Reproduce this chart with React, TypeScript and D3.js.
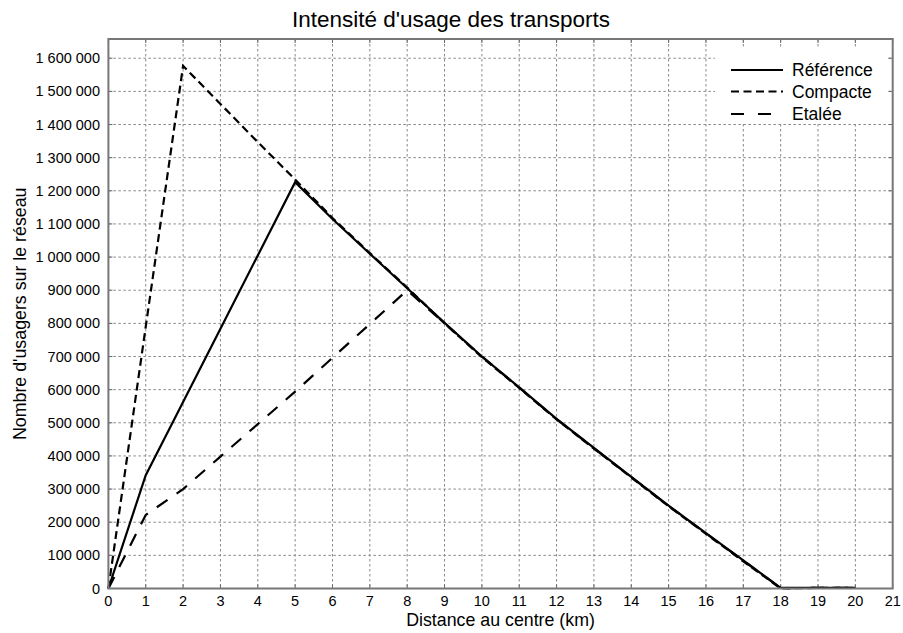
import React from "react";
import * as d3 from "d3";

const distances = [0, 1, 2, 3, 4, 5, 6, 7, 8, 9, 10, 11, 12, 13, 14, 15, 16, 17, 18, 19, 20];
const reference = [0, 342000, 563000, 784000, 1005000, 1226000, 1115000, 1010000, 906000, 802000, 700000, 607000, 512000, 424000, 337000, 250000, 167000, 85000, 2000, 2000, 2000];
const compacte = [0, 790000, 1577000, 1462000, 1347000, 1234000, 1118000, 1012000, 908000, 800000, 698000, 605000, 510000, 422000, 335000, 248000, 165000, 82000, 0, 2000, 2000];
const etalee = [0, 222000, 300000, 398000, 496000, 594000, 696000, 798000, 900000, 800000, 700000, 606000, 511000, 423000, 336000, 249000, 166000, 84000, 1000, 2000, 2000];
const xTicks = d3.range(0, 22);
const yTicks = d3.range(0, 1700000, 100000);
const seriesNames = ["Référence", "Compacte", "Etalée"];

const W = 903, H = 633;
const L = 108.4, R = 892.7, T = 39, B = 588.5;
const FONT = "'Liberation Sans', Arial, Helvetica, sans-serif";

export default function App() {
  const x = d3.scaleLinear().domain([0, 21]).range([L, R]);
  const y = d3.scaleLinear().domain([0, 1658000]).range([B, T]);
  const fmt = (v: number) => d3.format(",")(v).replace(/,/g, " ");
  const line = d3.line<number>().x((_, i) => x(distances[i])).y((d) => y(d));
  const series = [
    { name: seriesNames[0], data: reference, dash: "" },
    { name: seriesNames[1], data: compacte, dash: "8,4.5" },
    { name: seriesNames[2], data: etalee, dash: "13,11" },
  ];
  return (
    <svg width={W} height={H} style={{ position: "absolute", left: 0, top: 0, background: "#fff" }} fontFamily={FONT}>
      <rect x={0} y={0} width={W} height={H} fill="#fff" />
      <text x={451} y={27} textAnchor="middle" fontSize={22.5} fill="#000">Intensité d'usage des transports</text>
      {xTicks.slice(1, -1).map((t) => (
        <line key={"gx" + t} x1={x(t)} x2={x(t)} y1={T} y2={B} stroke="#888" strokeWidth={1} strokeDasharray="2.5,2.5" />
      ))}
      {yTicks.slice(1).map((t) => (
        <line key={"gy" + t} x1={L} x2={R} y1={y(t)} y2={y(t)} stroke="#888" strokeWidth={1} strokeDasharray="2.5,2.5" />
      ))}
      {xTicks.map((t) => (
        <g key={"tx" + t}>
          <line x1={x(t)} x2={x(t)} y1={B} y2={B - 4} stroke="#666" strokeWidth={1} />
          <line x1={x(t)} x2={x(t)} y1={T} y2={T + 4} stroke="#666" strokeWidth={1} />
          <text x={x(t)} y={606} textAnchor="middle" fontSize={14.5} fill="#000">{t}</text>
        </g>
      ))}
      {yTicks.map((t) => (
        <g key={"ty" + t}>
          <line x1={L} x2={L + 4} y1={y(t)} y2={y(t)} stroke="#666" strokeWidth={1} />
          <line x1={R} x2={R - 4} y1={y(t)} y2={y(t)} stroke="#666" strokeWidth={1} />
          <text x={100} y={y(t) + 5} textAnchor="end" fontSize={14.5} fill="#000">{fmt(t)}</text>
        </g>
      ))}
      <rect x={715} y={47} width={171} height={76} fill="#fff" />
      {series.map((s) => (
        <path key={s.name} d={line(s.data) || ""} fill="none" stroke="#000" strokeWidth={2.2} strokeDasharray={s.dash || undefined} strokeLinejoin="miter" />
      ))}
      <rect x={L} y={T} width={R - L} height={B - T} fill="none" stroke="#777" strokeWidth={2} />
      {series.map((s, i) => {
        const ly = [70, 91.5, 114][i];
        return (
          <g key={"lg" + s.name}>
            <line x1={731} x2={783} y1={ly} y2={ly} stroke="#000" strokeWidth={2.2} strokeDasharray={s.dash === "13,11" ? "13,14" : s.dash || undefined} />
            <text x={792} y={ly + 6} fontSize={17.5} fill="#000">{s.name}</text>
          </g>
        );
      })}
      <text x={(L + R) / 2} y={626} textAnchor="middle" fontSize={17.8} fill="#000">Distance au centre (km)</text>
      <text transform={`translate(26,${(T + B) / 2}) rotate(-90)`} textAnchor="middle" fontSize={17.8} fill="#000">Nombre d'usagers sur le réseau</text>
    </svg>
  );
}
